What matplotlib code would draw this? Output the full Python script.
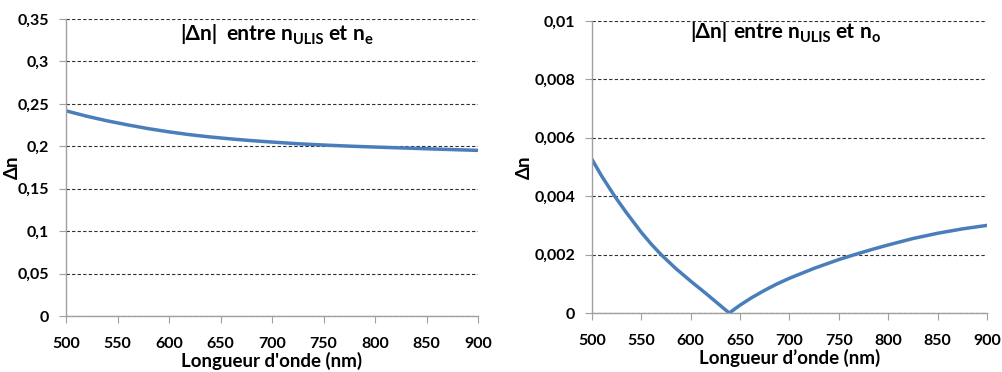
import matplotlib
matplotlib.use("Agg")
import matplotlib.pyplot as plt
from matplotlib.ticker import FuncFormatter
from matplotlib.transforms import IdentityTransform

# data
wl_e = [500, 520, 540, 560, 580, 600, 620, 640, 660, 680, 700, 725, 750, 775, 800, 825, 850, 875, 900]
dn_e = [0.2418, 0.2355, 0.2300, 0.2252, 0.2208, 0.2170, 0.2137, 0.2110, 0.2087, 0.2067, 0.2050, 0.2030, 0.2015, 0.2002, 0.1991, 0.1981, 0.1971, 0.1961, 0.1952]

wl_o = [500, 510, 523, 535, 550, 560, 570, 585, 600, 615, 627, 639,
        650, 662, 675, 687, 700, 725, 750, 768, 785, 800, 825, 850, 875, 900]
dn_o = [0.00526, 0.00468, 0.00400, 0.00343, 0.00276, 0.00236, 0.00200, 0.00152, 0.00109, 0.00068, 0.00034, 0.00000,
        0.00027, 0.00053, 0.00078, 0.00099, 0.00119, 0.00153, 0.00183, 0.00202, 0.00219, 0.00233, 0.00255, 0.00273, 0.00288, 0.00300]

yticks_e = [0, 0.05, 0.1, 0.15, 0.2, 0.25, 0.3, 0.35]
yticks_o = [0, 0.002, 0.004, 0.006, 0.008, 0.01]
xticks = [500, 550, 600, 650, 700, 750, 800, 850, 900]

# title pieces: (text, subscript?, gap after in px)
title_e = [("|Δn|", False, 9), ("entre", False, 5), ("n", False, 0), ("ULIS", True, 5),
           ("et", False, 5), ("n", False, 0), ("e", True, 0)]
title_o = [("|Δn|", False, 6), ("entre", False, 5), ("n", False, 0), ("ULIS", True, 5),
           ("et", False, 5), ("n", False, 0), ("o", True, 0)]

plt.rcParams['font.family'] = ['Lato', 'DejaVu Sans']
plt.rcParams['font.weight'] = 'bold'

line_col = '#4a7ebb'
grid_col = '#303030'


def comma(v, pos):
    s = ('%.3f' % v).rstrip('0').rstrip('.')
    return s.replace('.', ',')


def style_ax(ax, yticks, xlab, ylab_x):
    ax.set_xlim(500, 900)
    ax.set_ylim(yticks[0], yticks[-1])
    ax.set_xticks(xticks)
    ax.set_yticks(yticks)
    ax.yaxis.set_major_formatter(FuncFormatter(comma))
    for s in ['top', 'right']:
        ax.spines[s].set_visible(False)
    for s in ['left', 'bottom']:
        ax.spines[s].set_color('#a0a0a0')
        ax.spines[s].set_linewidth(1)
    ax.tick_params(axis='both', colors='#a0a0a0', labelcolor='black', labelsize=11.5, length=5)
    ax.tick_params(axis='x', pad=10)
    ax.tick_params(axis='y', pad=7)
    ax.yaxis.grid(True, linestyle=(0, (3, 2)), color=grid_col, linewidth=0.8)
    ax.set_axisbelow(True)
    for lab in ax.get_xticklabels() + ax.get_yticklabels():
        lab.set_fontweight('bold')
    ax.set_xlabel(xlab, fontsize=13.5, fontweight='bold', labelpad=1)
    ax.set_ylabel('Δn', fontsize=13.5, fontweight='bold')
    ax.yaxis.set_label_coords(ylab_x, 0.5)


def draw_title(fig, pieces, x0, y0):
    # x0, y0 in pixels from the bottom-left corner; y0 is the baseline
    renderer = fig.canvas.get_renderer()
    x = x0
    for txt, sub, gap in pieces:
        size = 10.5 if sub else 15
        y = y0 - 4 if sub else y0
        t = fig.text(x, y, txt, transform=IdentityTransform(), fontsize=size,
                     fontweight='bold', va='baseline', ha='left')
        x += t.get_window_extent(renderer).width + gap


fig = plt.figure(figsize=(10.03, 3.72), dpi=100)
ax1 = fig.add_axes([0.0658, 0.1505, 0.4108, 0.7984])
ax2 = fig.add_axes([0.5902, 0.1586, 0.3938, 0.785])

ax1.plot(wl_e, dn_e, color=line_col, linewidth=2.5)
style_ax(ax1, yticks_e, "Longueur d'onde (nm)", -0.11)

ax2.plot(wl_o, dn_o, color=line_col, linewidth=2.5)
style_ax(ax2, yticks_o, "Longueur d\u2019onde (nm)", -0.15)

draw_title(fig, title_e, 180, 372 - 40)
draw_title(fig, title_o, 690, 372 - 38)

fig.savefig('out.png', dpi=100)
